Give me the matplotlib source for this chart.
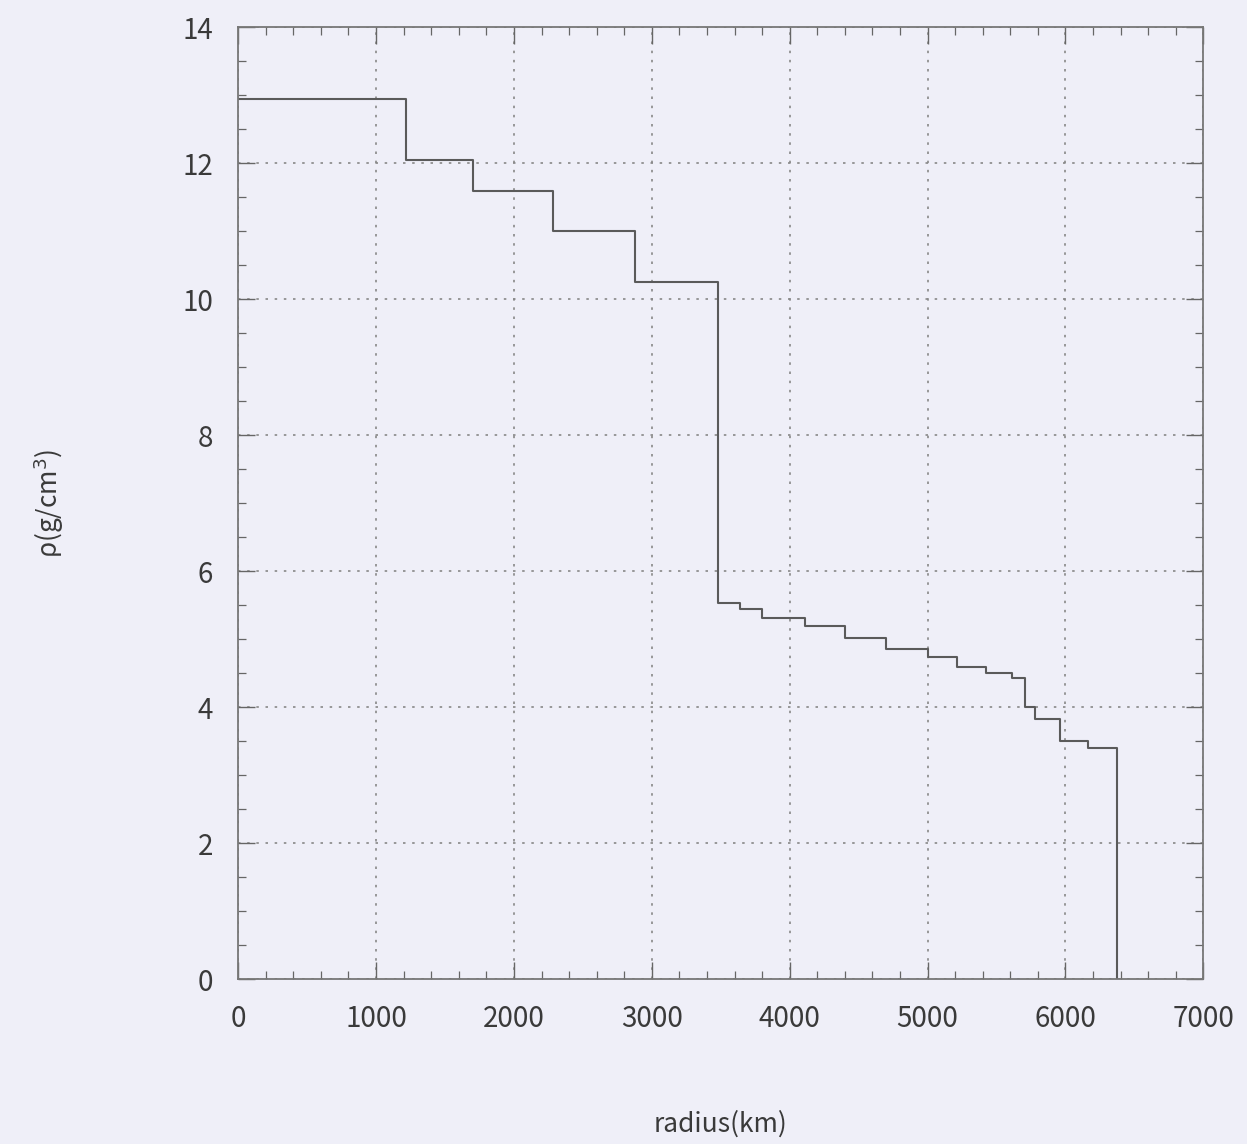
import matplotlib
matplotlib.use("Agg")
import matplotlib.pyplot as plt
from matplotlib.ticker import MultipleLocator

plt.rcParams['font.family'] = ['Noto Sans CJK JP', 'DejaVu Sans']

# layer boundaries (km) and density (g/cm^3) of each layer
radius_edges = [0, 1220, 1700, 2280, 2880, 3480, 3640, 3800, 4110, 4400,
                4700, 5000, 5210, 5420, 5610, 5710, 5780, 5960, 6160, 6371]
density = [12.95, 12.05, 11.6, 11.0, 10.25, 5.53, 5.44, 5.31, 5.19, 5.02,
           4.86, 4.74, 4.60, 4.51, 4.43, 4.00, 3.83, 3.50, 3.40]

x_ticks = [0, 1000, 2000, 3000, 4000, 5000, 6000, 7000]
y_ticks = [0, 2, 4, 6, 8, 10, 12, 14]

bg = '#efeff8'
fig = plt.figure(figsize=(12.47, 11.44), dpi=100, facecolor=bg)
ax = fig.add_axes([0.191, 0.144, 0.774, 0.832], facecolor=bg)

xs = list(radius_edges) + [radius_edges[-1]]
ys = [density[0]] + list(density) + [0]
ax.step(xs, ys, where='pre', color='#5a5a5a', lw=1.5)

ax.set_xlim(0, 7000)
ax.set_ylim(0, 14)
ax.set_xticks(x_ticks)
ax.set_yticks(y_ticks)
ax.xaxis.set_minor_locator(MultipleLocator(200))
ax.yaxis.set_minor_locator(MultipleLocator(0.5))
ax.grid(True, which='major', linestyle=(0, (1.5, 4)), color='#888888', lw=1.2)

ax.tick_params(which='both', direction='in', top=True, right=True,
               color='#666666')
ax.tick_params(which='major', length=12, width=1.0, labelsize=20,
               labelcolor='#3a3a3a', pad=18)
ax.tick_params(which='minor', length=6, width=0.9)
for s in ax.spines.values():
    s.set_color('#777777')
    s.set_linewidth(1.3)

ax.set_xlabel('radius(km)', fontsize=19, color='#3a3a3a', labelpad=55)
ax.set_ylabel('ρ(g/cm$^3$)', fontsize=19, color='#3a3a3a', labelpad=84)

fig.savefig('out.png', dpi=100, facecolor=bg)
